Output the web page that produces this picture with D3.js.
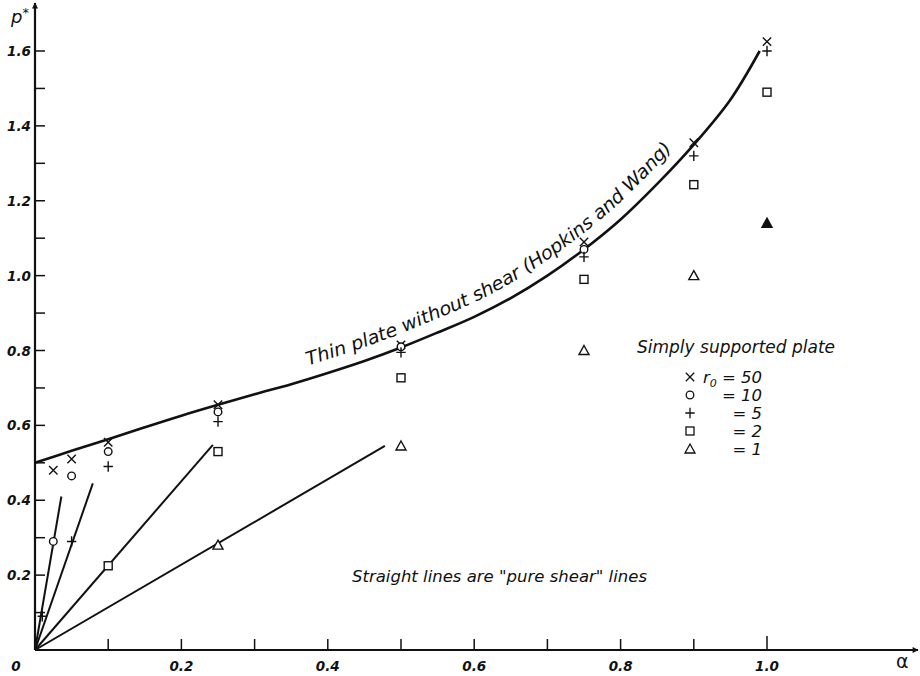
<!DOCTYPE html>
<html>
<head>
<meta charset="utf-8">
<script src="https://cdn.jsdelivr.net/npm/d3@7"></script>
<style>
  body { margin: 0; background: #fff; }
  text { font-family: "DejaVu Sans", sans-serif; fill: #111; }
</style>
</head>
<body>
<svg id="chart" width="920" height="676"></svg>
<script>
// Thin plate curve (Hopkins and Wang): alpha vs p*
const curveAlpha = [0, 0.05, 0.1, 0.15, 0.2, 0.25, 0.3, 0.35, 0.4, 0.45, 0.5, 0.55, 0.6, 0.65, 0.7, 0.75, 0.8, 0.85, 0.9, 0.95, 0.99];
const curveP     = [0.50, 0.532, 0.563, 0.595, 0.626, 0.655, 0.683, 0.71, 0.74, 0.772, 0.808, 0.848, 0.89, 0.94, 1.0, 1.07, 1.15, 1.245, 1.35, 1.47, 1.60];

// Pure shear lines: end points (all start at origin)
const shearEndAlpha = [0.036, 0.079, 0.243, 0.478];
const shearEndP     = [0.41, 0.445, 0.548, 0.545];

// Measured points, one series per r0
const r50Alpha = [0.025, 0.05, 0.1, 0.25, 0.5, 0.75, 0.9, 1.0];
const r50P     = [0.48, 0.51, 0.555, 0.655, 0.815, 1.09, 1.355, 1.625];
const r10Alpha = [0.025, 0.05, 0.1, 0.25, 0.5, 0.75];
const r10P     = [0.29, 0.465, 0.53, 0.636, 0.81, 1.07];
const r5Alpha  = [0.01, 0.05, 0.1, 0.25, 0.5, 0.75, 0.9, 1.0];
const r5P      = [0.09, 0.29, 0.49, 0.61, 0.795, 1.05, 1.32, 1.60];
const r2Alpha  = [0.1, 0.25, 0.5, 0.75, 0.9, 1.0];
const r2P      = [0.225, 0.53, 0.727, 0.99, 1.243, 1.49];
const r1Alpha  = [0.25, 0.5, 0.75, 0.9, 1.0];
const r1P      = [0.28, 0.545, 0.80, 1.0, 1.14];

const xTicks = [0.1, 0.2, 0.3, 0.4, 0.5, 0.6, 0.7, 0.8, 0.9, 1.0];
const xTickLabels = [0.2, 0.4, 0.6, 0.8, 1.0];
const yTicks = d3.range(1, 17).map(i => i / 10);
const yTickLabels = [0.2, 0.4, 0.6, 0.8, 1.0, 1.2, 1.4, 1.6];

const legendLabels = ["r0 = 50", "= 10", "= 5", "= 2", "= 1"];

const series = [
  { key: "x", alpha: r50Alpha, p: r50P },
  { key: "o", alpha: r10Alpha, p: r10P },
  { key: "+", alpha: r5Alpha, p: r5P },
  { key: "s", alpha: r2Alpha, p: r2P },
  { key: "t", alpha: r1Alpha, p: r1P }
];

const svg = d3.select("#chart");
const xScale = d3.scaleLinear().domain([0, 1]).range([35, 767]);
const yScale = d3.scaleLinear().domain([0, 1.6]).range([650, 51]);
const x0 = xScale(0), y0 = yScale(0);

// axes with arrowheads
svg.append("defs").append("marker")
  .attr("id", "arrow")
  .attr("viewBox", "0 0 10 10")
  .attr("refX", 9).attr("refY", 5)
  .attr("markerWidth", 8).attr("markerHeight", 6)
  .attr("markerUnits", "userSpaceOnUse")
  .attr("orient", "auto")
  .append("path").attr("d", "M0,0 L10,5 L0,10 Z").attr("fill", "#111");

svg.append("line")
  .attr("x1", x0).attr("y1", y0).attr("x2", 918).attr("y2", y0)
  .attr("stroke", "#111").attr("stroke-width", 2.2).attr("marker-end", "url(#arrow)");
svg.append("line")
  .attr("x1", x0).attr("y1", y0).attr("x2", x0).attr("y2", 3)
  .attr("stroke", "#111").attr("stroke-width", 2.2).attr("marker-end", "url(#arrow)");

// ticks
svg.selectAll(".xtick").data(xTicks).enter().append("line")
  .attr("x1", d => xScale(d)).attr("x2", d => xScale(d))
  .attr("y1", y0).attr("y2", d => y0 - (d === 1.0 ? 14 : 11))
  .attr("stroke", "#111").attr("stroke-width", 1.5);
svg.selectAll(".ytick").data(yTicks).enter().append("line")
  .attr("x1", x0).attr("x2", x0 + 10)
  .attr("y1", d => yScale(d)).attr("y2", d => yScale(d))
  .attr("stroke", "#111").attr("stroke-width", 1.5);

const tickFont = g => g.attr("font-size", 13.5).attr("font-style", "italic").attr("font-weight", "bold");
svg.selectAll(".xlab").data(xTickLabels).enter().append("text")
  .call(tickFont)
  .attr("x", d => xScale(d)).attr("y", 671)
  .attr("text-anchor", "middle")
  .text(d => d.toFixed(1));
svg.selectAll(".ylab").data(yTickLabels).enter().append("text")
  .call(tickFont)
  .attr("x", 31).attr("y", d => yScale(d) + 5)
  .attr("text-anchor", "end")
  .text(d => d.toFixed(1));
svg.append("text").call(tickFont).attr("x", 16).attr("y", 671).attr("text-anchor", "middle").text("0");

// axis titles
const pt = svg.append("text").attr("x", 11).attr("y", 23)
  .attr("font-size", 18).attr("font-style", "italic");
pt.append("tspan").text("p");
pt.append("tspan").attr("dy", -6).attr("font-size", 13).text("*");
svg.append("text").attr("x", 896).attr("y", 668).attr("font-size", 19).text("α");

// pure shear lines
svg.selectAll(".shear").data(shearEndAlpha).enter().append("line")
  .attr("x1", x0).attr("y1", y0)
  .attr("x2", d => xScale(d)).attr("y2", (d, i) => yScale(shearEndP[i]))
  .attr("stroke", "#111").attr("stroke-width", 2);

// thin plate curve
const curvePts = curveAlpha.map((a, i) => [xScale(a), yScale(curveP[i])]);
const curvePath = svg.append("path")
  .attr("id", "thinCurve")
  .attr("d", d3.line().curve(d3.curveCatmullRom)(curvePts))
  .attr("fill", "none").attr("stroke", "#111").attr("stroke-width", 2.6);

// label along curve
const pathNode = curvePath.node();
const total = pathNode.getTotalLength();
function lengthAtX(px) {
  let lo = 0, hi = total;
  for (let k = 0; k < 40; k++) {
    const mid = (lo + hi) / 2;
    if (pathNode.getPointAtLength(mid).x < px) lo = mid; else hi = mid;
  }
  return lo;
}
const l1 = lengthAtX(312), l2 = lengthAtX(682);
svg.append("text")
  .attr("font-size", 18.5).attr("font-style", "italic").attr("dy", -13)
  .append("textPath")
  .attr("href", "#thinCurve")
  .attr("startOffset", l1)
  .attr("textLength", l2 - l1)
  .attr("lengthAdjust", "spacingAndGlyphs")
  .text("Thin plate without shear (Hopkins and Wang)");

// markers
function drawMarker(g, key, filled) {
  const s = 4.2;
  if (key === "x") {
    g.append("path").attr("d", `M${-s},${-s}L${s},${s}M${-s},${s}L${s},${-s}`);
  } else if (key === "+") {
    g.append("path").attr("d", `M${-s - 0.5},0L${s + 0.5},0M0,${-s - 1}L0,${s + 1}`);
  } else if (key === "o") {
    g.append("circle").attr("r", 3.8);
  } else if (key === "s") {
    g.append("rect").attr("x", -4).attr("y", -4).attr("width", 8).attr("height", 8);
  } else if (key === "t") {
    g.append("path").attr("d", "M0,-5L5,4L-5,4Z").attr("fill", filled ? "#111" : "#fff");
  }
}

series.forEach(sr => {
  sr.alpha.forEach((a, i) => {
    const g = svg.append("g")
      .attr("transform", `translate(${xScale(a)},${yScale(sr.p[i])})`)
      .attr("fill", "#fff").attr("stroke", "#111").attr("stroke-width", 1.4);
    drawMarker(g, sr.key, sr.key === "t" && a === 1.0);
  });
});

// legend
svg.append("text").attr("x", 637).attr("y", 353)
  .attr("font-size", 17).attr("font-style", "italic")
  .text("Simply supported plate");

series.forEach((sr, i) => {
  const yy = 377 + i * 18;
  const g = svg.append("g").attr("transform", `translate(690,${yy})`)
    .attr("fill", "#fff").attr("stroke", "#111").attr("stroke-width", 1.3);
  drawMarker(g, sr.key, false);
  const t = svg.append("text").attr("x", 762).attr("y", yy + 6)
    .attr("font-size", 16.5).attr("font-style", "italic").attr("text-anchor", "end");
  if (i === 0) {
    t.append("tspan").text("r");
    t.append("tspan").attr("dy", 4).attr("font-size", 11).text("0");
    t.append("tspan").attr("dy", -4).text(" = 50");
  } else {
    t.text(legendLabels[i]);
  }
});

svg.append("text").attr("x", 352).attr("y", 582)
  .attr("font-size", 16.5).attr("font-style", "italic")
  .text("Straight lines are \"pure shear\" lines");
</script>
</body>
</html>
